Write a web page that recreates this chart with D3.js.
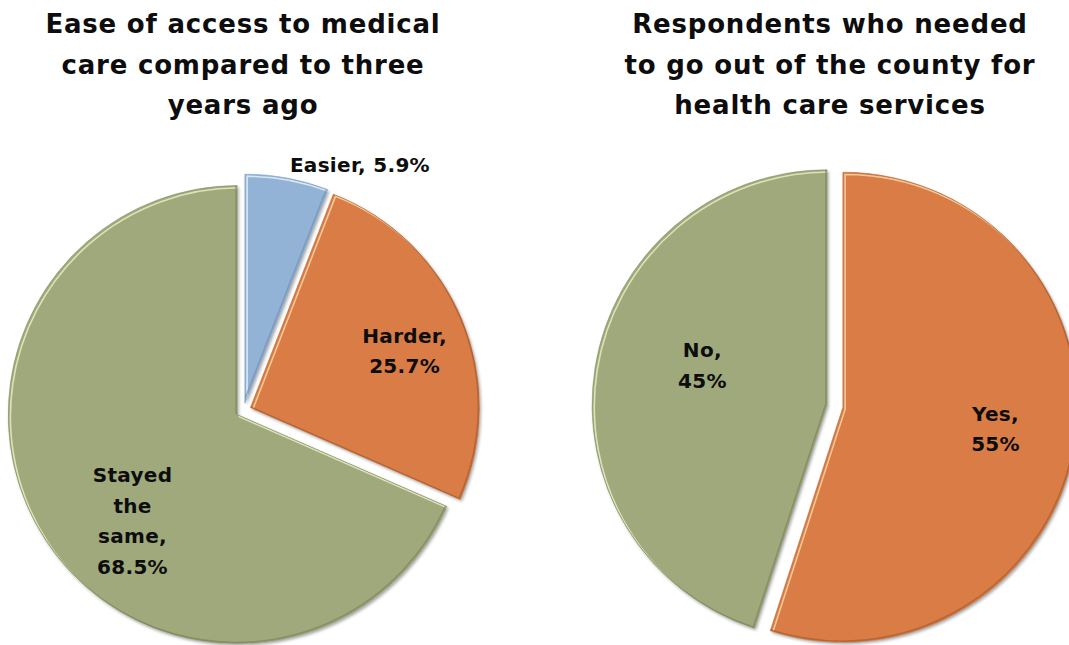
<!DOCTYPE html>
<html>
<head>
<meta charset="utf-8">
<script src="https://cdn.jsdelivr.net/npm/d3@7/dist/d3.min.js"></script>
<style>
  html, body { margin: 0; padding: 0; background: #fff; }
  svg { display: block; }
  text { font-family: "DejaVu Sans", "Lato", sans-serif; font-weight: 700; fill: #0d0d0d; }
</style>
</head>
<body>
<svg id="chart" width="1069" height="645"></svg>
<script>
// ---- data ----
const accessCategories = ["Easier", "Harder", "Stayed the same"];
const accessValues = [5.9, 25.7, 68.5];
const accessLabels = [["Easier, 5.9%"], ["Harder,", "25.7%"], ["Stayed", "the", "same,", "68.5%"]];
const accessTitle = ["Ease of access to medical", "care compared to three", "years ago"];

const travelCategories = ["Yes", "No"];
const travelValues = [55, 45];
const travelLabels = [["Yes,", "55%"], ["No,", "45%"]];
const travelTitle = ["Respondents who needed", "to go out of the county for", "health care services"];

// ---- styling ----
const palette = {
  "Easier": { fill: "#93b3d6", edge: "#6f8fb3", light: "#e4f0fb" },
  "Harder": { fill: "#d97c44", edge: "#a95a2c", light: "#f8d6a4" },
  "Stayed the same": { fill: "#a0a97c", edge: "#7b8359", light: "#e6ecc0" },
  "Yes": { fill: "#d97c44", edge: "#a95a2c", light: "#f8d6a4" },
  "No": { fill: "#a0a97c", edge: "#7b8359", light: "#e6ecc0" }
};

const svg = d3.select("#chart");
const defs = svg.append("defs");

const shadow = defs.append("filter").attr("id", "sliceShadow")
  .attr("x", "-10%").attr("y", "-10%").attr("width", "120%").attr("height", "120%");
shadow.append("feDropShadow")
  .attr("dx", 1.5).attr("dy", 2).attr("stdDeviation", 1.8)
  .attr("flood-color", "#000").attr("flood-opacity", 0.35);

function drawPie(opts) {
  const { id, cx, cy, radius, explode, categories, values, labels, labelPlace, title, titleX } = opts;
  const deg = Math.PI / 180;
  const pie = d3.pie().sort(null).startAngle(0).endAngle(2 * Math.PI);
  const arcs = pie(values)
    .map((a, i) => Object.assign(a, { cat: categories[i], lines: labels[i], place: labelPlace[i] }));
  const arc = d3.arc().innerRadius(0).outerRadius(radius);

  const g = svg.append("g").attr("transform", `translate(${cx},${cy})`);

  const slice = g.selectAll("g.slice").data(arcs).join("g")
    .attr("class", "slice")
    .attr("transform", d => {
      const m = (d.startAngle + d.endAngle) / 2;
      return `translate(${explode * Math.sin(m)},${-explode * Math.cos(m)})`;
    });

  slice.each(function (d, i) {
    const s = d3.select(this);
    const c = palette[d.cat];
    const clipId = `${id}-clip-${i}`;
    defs.append("clipPath").attr("id", clipId).append("path").attr("d", arc(d));

    s.append("path").attr("d", arc(d))
      .attr("fill", c.fill)
      .attr("filter", "url(#sliceShadow)");

    // bevel highlight along the lit (upper-left) edges
    const bevel = s.append("g").attr("clip-path", `url(#${clipId})`);
    bevel.append("path").attr("d", arc(d))
      .attr("transform", "translate(2.2,2.2)")
      .attr("fill", "none")
      .attr("stroke", c.light)
      .attr("stroke-width", 1.6)
      .attr("stroke-opacity", 0.85);
    // darker rim on the shaded (lower-right) edges
    bevel.append("path").attr("d", arc(d))
      .attr("transform", "translate(-1.2,-1.2)")
      .attr("fill", "none")
      .attr("stroke", c.edge)
      .attr("stroke-width", 1.4)
      .attr("stroke-opacity", 0.7);

    s.append("path").attr("d", arc(d))
      .attr("fill", "none")
      .attr("stroke", c.edge)
      .attr("stroke-width", 0.8)
      .attr("stroke-opacity", 0.6);
  });

  // data labels, placed in polar terms around each slice's middle angle
  const lineH = 30.5;
  g.selectAll("text.label").data(arcs).join("text")
    .attr("class", "label")
    .attr("text-anchor", "middle")
    .style("font-size", "20px")
    .style("letter-spacing", "0.3px")
    .each(function (d) {
      const m = (d.startAngle + d.endAngle) / 2 + d.place.da * deg;
      const r = radius * d.place.k;
      const x = r * Math.sin(m);
      const y = -r * Math.cos(m);
      const n = d.lines.length;
      d3.select(this).selectAll("tspan").data(d.lines).join("tspan")
        .attr("x", x)
        .attr("y", (t, j) => y - (n - 1) * lineH / 2 + j * lineH + 7)
        .text(t => t);
    });

  // chart title
  svg.append("text")
    .attr("text-anchor", "middle")
    .style("font-size", "26px")
    .style("letter-spacing", "0.8px")
    .selectAll("tspan").data(title).join("tspan")
    .attr("x", titleX)
    .attr("y", (t, j) => 33 + j * 40.5)
    .text(t => t);
}

drawPie({
  id: "access", cx: 243.5, cy: 410.5, radius: 229, explode: 7.5,
  categories: accessCategories, values: accessValues, labels: accessLabels,
  labelPlace: [{ da: 14.8, k: 1.185 }, { da: 2.3, k: 0.75 }, { da: -11.7, k: 0.684 }],
  title: accessTitle, titleX: 243
});

drawPie({
  id: "travel", cx: 835, cy: 406, radius: 235, explode: 8,
  categories: travelCategories, values: travelValues, labels: travelLabels,
  labelPlace: [{ da: -0.9, k: 0.69 }, { da: 7.9, k: 0.59 }],
  title: travelTitle, titleX: 830
});
</script>
</body>
</html>
